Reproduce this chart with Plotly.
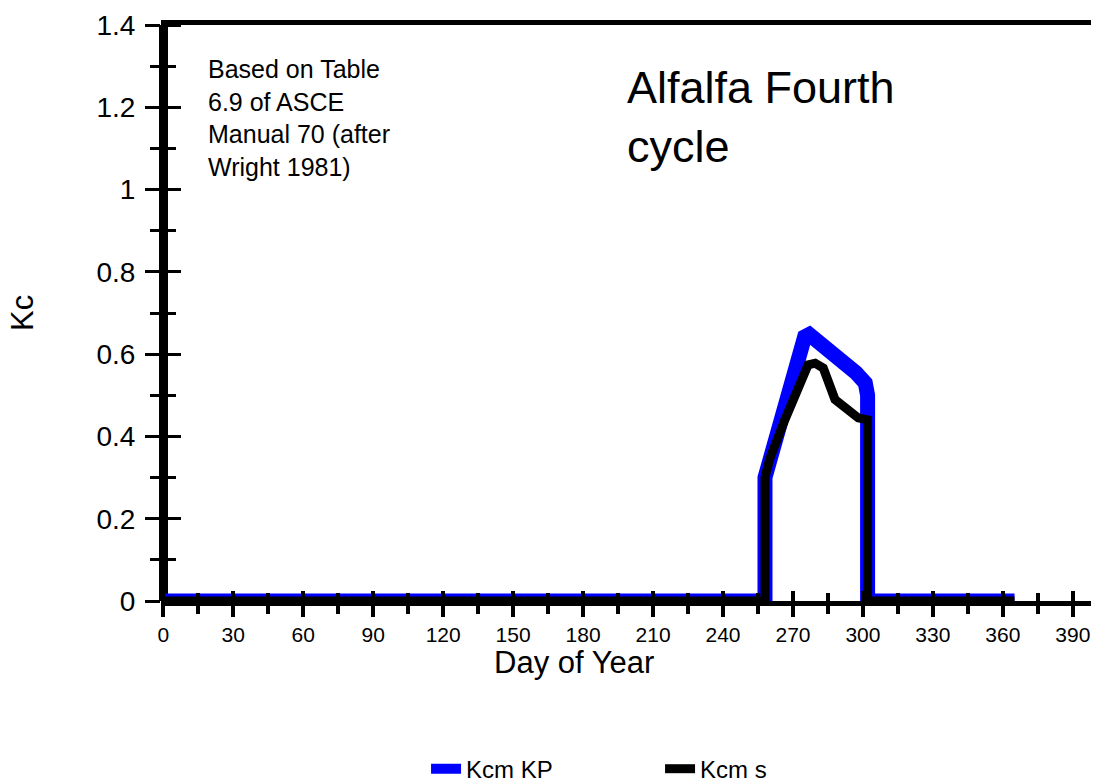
import plotly.graph_objects as go

# Crop coefficient series (day of year, Kc)
kp_days = [0, 258, 258, 266, 270, 273, 275, 277, 280, 290, 297, 301, 302, 302, 365]
kp_vals = [0, 0, 0.30, 0.47, 0.55, 0.615, 0.642, 0.648, 0.635, 0.59, 0.555, 0.53, 0.50, 0, 0]

s_days = [0, 258, 258, 260, 266.5, 272, 276.5, 279.5, 283, 288, 292, 298, 302, 302, 365]
s_vals = [0, 0, 0.30, 0.345, 0.44, 0.52, 0.574, 0.578, 0.566, 0.49, 0.47, 0.445, 0.44, 0, 0]

series_names = ["Kcm KP", "Kcm s"]

x_range = [-1, 397.8]
y_range = [0, 1.4]

FONT = "Arial, 'Liberation Sans', sans-serif"

fig = go.Figure()
fig.add_trace(go.Scatter(x=kp_days, y=kp_vals, mode="lines", name=series_names[0],
                         line=dict(color="#0000FF", width=15)))
fig.add_trace(go.Scatter(x=s_days, y=s_vals, mode="lines", name=series_names[1],
                         line=dict(color="#000000", width=9)))
# empty trace so the companion tick axes get a subplot of their own
fig.add_trace(go.Scatter(x=[None], y=[None], xaxis="x2", yaxis="y2", mode="lines",
                         showlegend=False, hoverinfo="skip"))

common_x = dict(range=x_range, tick0=0, dtick=30, showgrid=False, tickcolor="black")
common_y = dict(range=y_range, tick0=0, dtick=0.2, showgrid=False, tickcolor="black")

fig.update_layout(
    width=1096, height=784, autosize=False,
    margin=dict(l=161, r=5, t=25, b=183),
    paper_bgcolor="white", plot_bgcolor="white",
    font=dict(family=FONT, color="black"),
    # bottom axis: labels, outward half of the crossing ticks, frame top/bottom
    xaxis=dict(**common_x, ticks="outside", ticklen=11, tickwidth=4,
               showline=True, linewidth=5, linecolor="black", mirror=True,
               zeroline=True, zerolinewidth=9, zerolinecolor="black",
               tickfont=dict(size=21),
               minor=dict(ticks="outside", ticklen=8, tickwidth=4, dtick=15,
                          tick0=0, tickcolor="black", showgrid=False)),
    # companion axis on the bottom edge, ticks pointing up into the plot
    xaxis2=dict(**common_x, overlaying="x", anchor="free", position=0, side="top",
                ticks="outside", ticklen=10, tickwidth=4, showticklabels=False,
                showline=False, zeroline=False,
                minor=dict(ticks="outside", ticklen=8, tickwidth=4, dtick=15,
                           tick0=0, tickcolor="black", showgrid=False)),
    yaxis=dict(**common_y, ticks="outside", ticklen=15, tickwidth=3,
               showline=False, zeroline=False, tickfont=dict(size=28),
               ticklabelstandoff=4,
               minor=dict(ticks="outside", ticklen=10, tickwidth=3, dtick=0.1,
                          tick0=0, tickcolor="black", showgrid=False)),
    # companion axis on the left edge, ticks pointing right into the plot
    yaxis2=dict(**common_y, overlaying="y", anchor="free", position=0, side="right",
                ticks="outside", ticklen=19, tickwidth=3, showticklabels=False,
                showline=False, zeroline=False,
                minor=dict(ticks="outside", ticklen=14, tickwidth=3, dtick=0.1,
                           tick0=0, tickcolor="black", showgrid=False)),
    # right frame line
    yaxis3=dict(range=y_range, overlaying="y", anchor="x", side="right",
                showline=True, linewidth=5, linecolor="black", ticks="",
                showticklabels=False, showgrid=False, zeroline=False),
    legend=dict(orientation="h", x=0.285, xanchor="left",
                yref="container", y=0.019, yanchor="middle",
                font=dict(size=24), entrywidth=189, entrywidthmode="pixels",
                bgcolor="rgba(0,0,0,0)"),
    showlegend=True,
    annotations=[
        dict(text="Based on Table<br>6.9 of ASCE<br>Manual 70 (after<br>Wright 1981)",
             xref="paper", yref="paper", x=0.0484, y=0.9514, xanchor="left",
             yanchor="top", align="left", showarrow=False, font=dict(size=25)),
        dict(text="Alfalfa Fourth<br>cycle",
             xref="paper", yref="paper", x=0.499, y=0.939, xanchor="left",
             yanchor="top", align="left", showarrow=False, font=dict(size=45)),
        dict(text="Day of Year", xref="paper", yref="paper", x=0.444, y=-0.1067,
             xanchor="center", yanchor="middle", showarrow=False, font=dict(size=31)),
        dict(text="Kc", xref="paper", yref="paper", x=-0.1495, y=0.5,
             xanchor="center", yanchor="middle", textangle=-90, showarrow=False,
             font=dict(size=31)),
    ],
)

fig.write_html("out.html")
